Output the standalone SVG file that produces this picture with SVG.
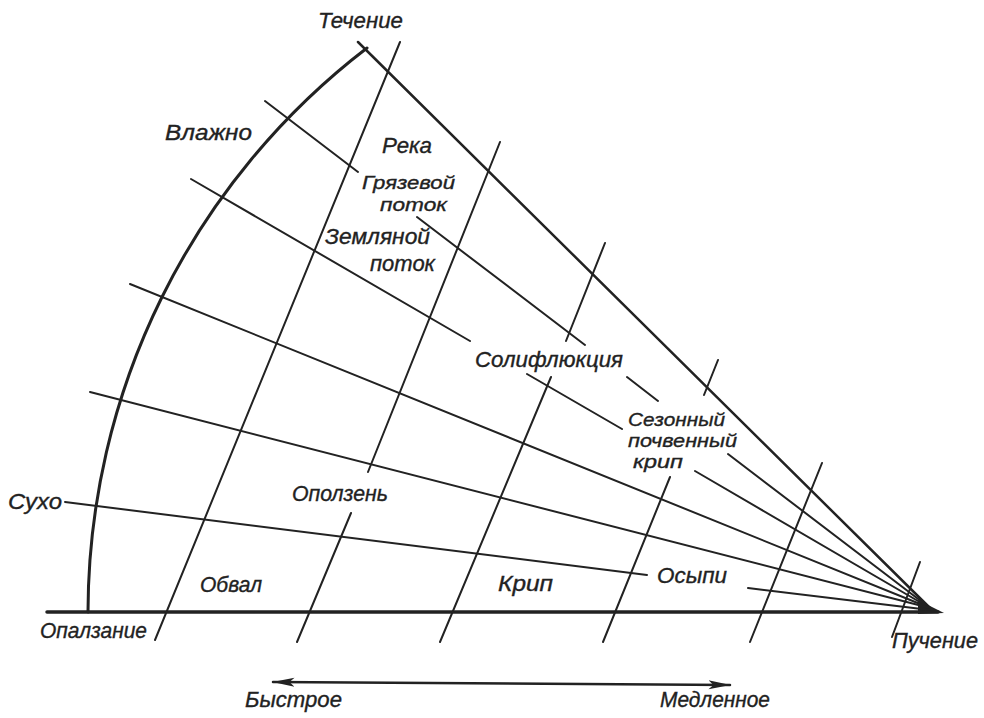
<svg xmlns="http://www.w3.org/2000/svg" width="984" height="718" viewBox="0 0 984 718">
<defs>
<marker id="ah" viewBox="0 0 22 10" refX="21.5" refY="5" markerWidth="22" markerHeight="10" markerUnits="userSpaceOnUse" orient="auto-start-reverse">
<path d="M0,0.5 L22,5 L0,9.5 L5,5 Z" fill="#222"/>
</marker>
</defs>
<style>
.ln{stroke:#222;stroke-width:2;fill:none;stroke-linecap:round}
.med{stroke-width:2.5}
.thick{stroke-width:3}
.base{stroke-width:3.5}
.lbl{font-family:"Liberation Sans",Arial,sans-serif;font-style:italic;font-size:22px;fill:#222;stroke:#222;stroke-width:0.35}
.sm{font-size:19px}
</style>
<rect width="984" height="718" fill="#fff"/>

<g id="frame">
<path class="ln thick" d="M367,48 A711.5,711.5 0 0 0 88,612"/>
<line class="ln base" x1="47" y1="612" x2="938" y2="612"/>
<line class="ln med" x1="358" y1="42" x2="930" y2="608"/>
<polygon points="918,600 944,613 918,614" fill="#222"/>
</g>

<g id="connectors">
<g id="radial">
<path class="ln" d="M265,101 L358,172 M417,217 L585,345 M627,377 L658,401 M728,454 L930,608"/>
<path class="ln" d="M191,179 L470,341 M527,374 L622,429 M695,471 L930,608"/>
<line class="ln" x1="130" y1="284" x2="930" y2="608"/>
<line class="ln" x1="90" y1="392" x2="930" y2="608"/>
<path class="ln" d="M65,502 L647,575 M748,588 L930,610"/>
</g>
<g id="transverse">
<line class="ln" x1="400" y1="42" x2="155" y2="640"/>
<path class="ln" d="M500,142 L368,472 M351,513 L297,642"/>
<path class="ln" d="M605,243 L566,341 M551,377 L440,642"/>
<path class="ln" d="M718,360 L704,395 M670,477 L603,642"/>
<line class="ln" x1="822" y1="463" x2="750" y2="642"/>
<line class="ln" x1="920" y1="562" x2="892" y2="637"/>
</g>
<line id="speed-arrow" class="ln med" x1="273" y1="682" x2="730" y2="685" marker-start="url(#ah)" marker-end="url(#ah)"/>
</g>

<g id="labels">
<g id="n-techenie"><text class="lbl" x="318" y="28" textLength="85" lengthAdjust="spacingAndGlyphs">Течение</text></g>
<g id="n-vlazhno"><text class="lbl" x="165" y="140" textLength="87" lengthAdjust="spacingAndGlyphs">Влажно</text></g>
<g id="n-reka"><text class="lbl" x="382" y="153" textLength="50" lengthAdjust="spacingAndGlyphs">Река</text></g>
<g id="n-gryaz"><text class="lbl sm" x="362" y="189" textLength="93" lengthAdjust="spacingAndGlyphs">Грязевой</text>
<text class="lbl sm" x="380" y="211" textLength="67" lengthAdjust="spacingAndGlyphs">поток</text></g>
<g id="n-zeml"><text class="lbl" x="325" y="244" textLength="105" lengthAdjust="spacingAndGlyphs">Земляной</text>
<text class="lbl" x="370" y="271" textLength="65" lengthAdjust="spacingAndGlyphs">поток</text></g>
<g id="n-solif"><text class="lbl" x="475" y="367" textLength="148" lengthAdjust="spacingAndGlyphs">Солифлюкция</text></g>
<g id="n-sezon"><text class="lbl sm" x="628" y="426" textLength="97" lengthAdjust="spacingAndGlyphs">Сезонный</text>
<text class="lbl sm" x="628" y="447" textLength="109" lengthAdjust="spacingAndGlyphs">почвенный</text>
<text class="lbl sm" x="633" y="468" textLength="50" lengthAdjust="spacingAndGlyphs">крип</text></g>
<g id="n-opolzen"><text class="lbl" x="292" y="501" textLength="96" lengthAdjust="spacingAndGlyphs">Оползень</text></g>
<g id="n-obval"><text class="lbl" x="200" y="592" textLength="62" lengthAdjust="spacingAndGlyphs">Обвал</text></g>
<g id="n-krip"><text class="lbl" x="498" y="591" textLength="55" lengthAdjust="spacingAndGlyphs">Крип</text></g>
<g id="n-osypi"><text class="lbl" x="657" y="583" textLength="70" lengthAdjust="spacingAndGlyphs">Осыпи</text></g>
<g id="n-suho"><text class="lbl" x="8" y="509" textLength="54" lengthAdjust="spacingAndGlyphs">Сухо</text></g>
<g id="n-opalz"><text class="lbl" x="40" y="638" textLength="107" lengthAdjust="spacingAndGlyphs">Опалзание</text></g>
<g id="n-puch"><text class="lbl" x="892" y="648" textLength="86" lengthAdjust="spacingAndGlyphs">Пучение</text></g>
<g id="n-bystr"><text class="lbl" x="245" y="707" textLength="97" lengthAdjust="spacingAndGlyphs">Быстрое</text></g>
<g id="n-medl"><text class="lbl" x="660" y="707" textLength="110" lengthAdjust="spacingAndGlyphs">Медленное</text></g>
</g>
</svg>
